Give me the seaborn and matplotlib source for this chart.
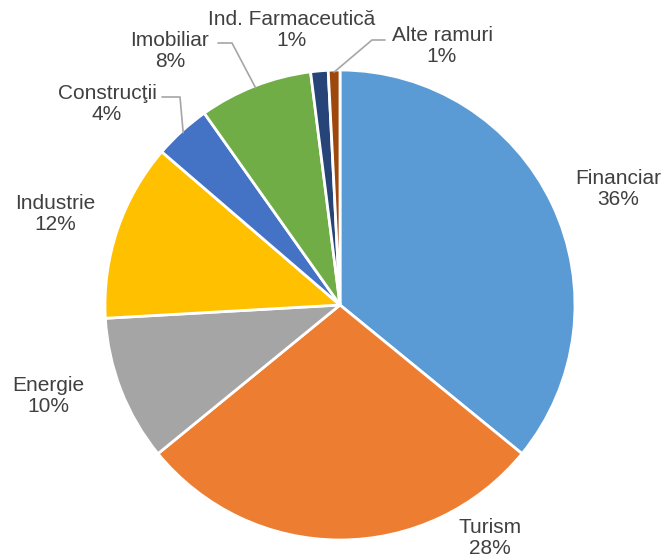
import numpy as np
import matplotlib
matplotlib.use("Agg")
import matplotlib.pyplot as plt
import seaborn as sns

# data
sectors = ["Financiar", "Turism", "Energie", "Industrie", "Construcţii",
           "Imobiliar", "Ind. Farmaceutică", "Alte ramuri"]
shares = [35.9, 28.2, 10.0, 12.2, 3.9, 7.8, 1.2, 0.8]
colors = ["#5B9BD5", "#ED7D31", "#A5A5A5", "#FFC000", "#4472C4",
          "#70AD47", "#264478", "#9E480E"]

W, H = 663, 555
CX, CY, R = 340, H - 305, 235

# label centres in pixel coords (y from top), and leader-line elbows
label_pos = {
    "Financiar": (618, 189),
    "Turism": (490, 538),
    "Energie": (48, 396),
    "Industrie": (55, 214),
    "Construcţii": (107, 104),
    "Imobiliar": (170, 51),
    "Ind. Farmaceutică": (292, 30),
    "Alte ramuri": (442, 46),
}
leaders = {
    "Construcţii": [(162, 97), (180, 97)],
    "Imobiliar": [(218, 43), (232, 43)],
    "Alte ramuri": [(385, 40), (372, 40)],
}

sns.set_theme(style="white")
plt.rcParams["font.family"] = ["Liberation Sans", "DejaVu Sans"]

fig = plt.figure(figsize=(W / 100, H / 100), dpi=100)
ax = fig.add_axes([0, 0, 1, 1])

wedges, _ = ax.pie(shares, colors=sns.color_palette(colors), startangle=90,
                   counterclock=False, center=(CX, CY), radius=R,
                   wedgeprops=dict(edgecolor="white", linewidth=2))

for w, name, val in zip(wedges, sectors, shares):
    x, y = label_pos[name]
    ax.text(x, H - y, f"{name}\n{round(val)}%", ha="center", va="center",
            fontsize=15, color="#404040", linespacing=1.1)
    if name in leaders:
        mid = np.deg2rad((w.theta1 + w.theta2) / 2)
        px = CX + (R - 2) * np.cos(mid)
        py = CY + (R - 2) * np.sin(mid)
        pts = [(a, H - b) for a, b in leaders[name]] + [(px, py)]
        ax.plot([p[0] for p in pts], [p[1] for p in pts],
                color="#A6A6A6", lw=1.2)

ax.set_xlim(0, W)
ax.set_ylim(0, H)
ax.set_aspect("equal")
ax.axis("off")

fig.savefig("out.png", dpi=100)
